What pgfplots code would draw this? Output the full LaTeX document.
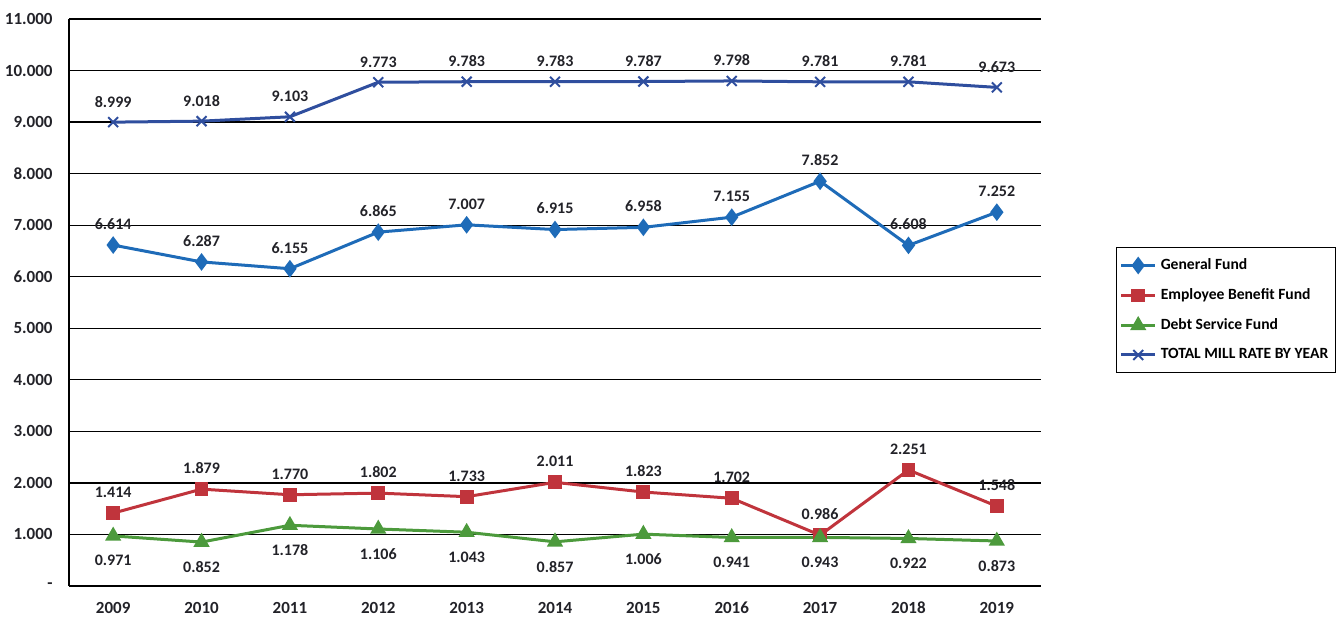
\documentclass[border=0pt]{standalone}
\usepackage{fontspec}
\setmainfont{Carlito}
\usepackage{pgfplots}
\pgfplotsset{compat=1.18}
\definecolor{gf}{RGB}{30,107,184}
\definecolor{eb}{RGB}{192,52,60}
\definecolor{ds}{RGB}{76,154,60}
\definecolor{tot}{RGB}{47,78,158}
\definecolor{lab}{RGB}{34,34,40}
\begin{document}
\begin{tikzpicture}
\useasboundingbox (-34.5pt,-17pt) rectangle (635pt,293pt);
\begin{axis}[
  scale only axis, width=486pt, height=283.5pt,
  xmin=-0.5, xmax=10.5, ymin=0, ymax=11,
  xtick={0,1,2,3,4,5,6,7,8,9,10},
  xticklabels={2009,2010,2011,2012,2013,2014,2015,2016,2017,2018,2019},
  ytick={0,1,2,3,4,5,6,7,8,9,10,11},
  yticklabels={-,1.000,2.000,3.000,4.000,5.000,6.000,7.000,8.000,9.000,10.000,11.000},
  axis x line*=bottom, axis y line*=left,
  axis line style={black, line width=0.8pt},
  ymajorgrids, grid style={black, line width=0.6pt},
  major tick length=0pt,
  tick label style={font=\bfseries\fontsize{8.5}{10}\selectfont, text=lab},
  xticklabel style={anchor=north, inner sep=0pt, yshift=-7.8pt},
  yticklabel style={anchor=east, inner sep=0pt, xshift=-8pt},
  clip=false,
  point meta=explicit symbolic,
  nodes near coords,
  every node near coord/.append style={font=\bfseries\fontsize{8}{9}\selectfont, text=lab, anchor=south, inner sep=1pt, yshift=6pt},
  legend style={at={(1.0772,0.598)}, anchor=north west, draw=black, line width=0.6pt,
    font=\bfseries\fontsize{7.8}{9}\selectfont, row sep=4pt, inner xsep=1.5pt, inner ysep=3.5pt,
    cells={anchor=west}},
  legend cell align=left,
]
\addplot[gf, line width=1.5pt, mark=diamond*, mark size=3.2pt, mark options={solid}] coordinates {
 (0,6.614)[6.614] (1,6.287)[6.287] (2,6.155)[6.155] (3,6.865)[6.865] (4,7.007)[7.007]
 (5,6.915)[6.915] (6,6.958)[6.958] (7,7.155)[7.155] (8,7.852)[7.852] (9,6.608)[6.608] (10,7.252)[7.252]};
\addlegendentry{General Fund}
\addplot[eb, line width=1.5pt, mark=square*, mark size=2.7pt] coordinates {
 (0,1.414)[1.414] (1,1.879)[1.879] (2,1.770)[1.770] (3,1.802)[1.802] (4,1.733)[1.733]
 (5,2.011)[2.011] (6,1.823)[1.823] (7,1.702)[1.702] (8,0.986)[0.986] (9,2.251)[2.251] (10,1.548)[1.548]};
\addlegendentry{Employee Benefit Fund}
\addplot[ds, line width=1.5pt, mark=triangle*, mark size=3.2pt,
  every node near coord/.append style={anchor=north, yshift=-13.9pt}] coordinates {
 (0,0.971)[0.971] (1,0.852)[0.852] (2,1.178)[1.178] (3,1.106)[1.106] (4,1.043)[1.043]
 (5,0.857)[0.857] (6,1.006)[1.006] (7,0.941)[0.941] (8,0.943)[0.943] (9,0.922)[0.922] (10,0.873)[0.873]};
\addlegendentry{Debt Service Fund}
\addplot[tot, line width=1.5pt, mark=x, mark size=3.5pt, mark options={line width=1pt}] coordinates {
 (0,8.999)[8.999] (1,9.018)[9.018] (2,9.103)[9.103] (3,9.773)[9.773] (4,9.783)[9.783]
 (5,9.783)[9.783] (6,9.787)[9.787] (7,9.798)[9.798] (8,9.781)[9.781] (9,9.781)[9.781] (10,9.673)[9.673]};
\addlegendentry{TOTAL MILL RATE BY YEAR}
\end{axis}
\end{tikzpicture}
\end{document}
